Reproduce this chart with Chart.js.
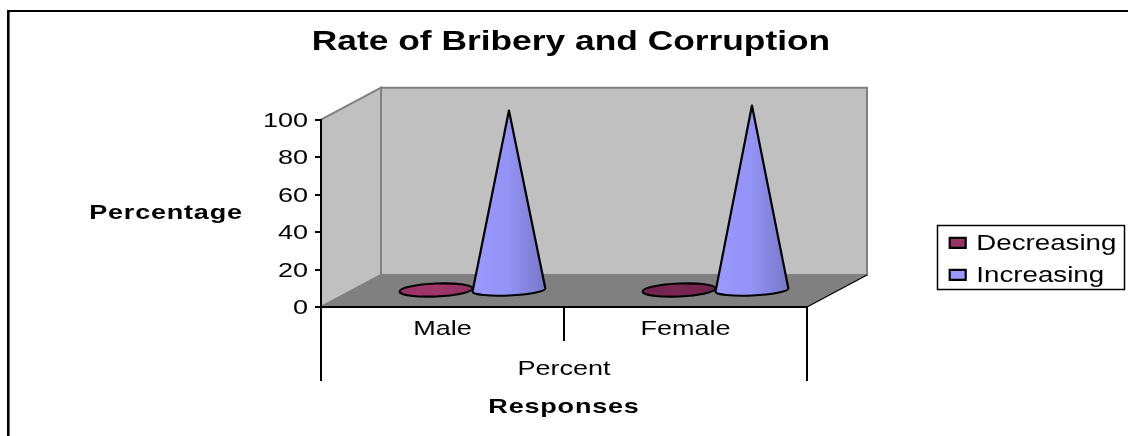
<!DOCTYPE html>
<html>
<head>
<meta charset="utf-8">
<title>Rate of Bribery and Corruption</title>
<style>html,body{margin:0;padding:0;background:#fff}canvas{display:block}</style>
<script src="https://cdn.jsdelivr.net/npm/chart.js@4/dist/chart.umd.min.js"></script>
</head>
<body>
<canvas id="c" width="1128" height="436"></canvas>
<script>
const categories = ['Male', 'Female'];
const decreasing = [3.7, 1.0];
const increasing = [96.3, 99.0];
const seriesNames = ['Decreasing', 'Increasing'];
const yTicks = [0, 20, 40, 60, 80, 100];
const chartTitle = 'Rate of Bribery and Corruption';
const yTitle = 'Percentage';
const xTitle = 'Responses';
const groupLabel = 'Percent';
const decreasingShades = ['#993366', '#73244F'];

const FONT = '"Liberation Sans", Arial, sans-serif';
const DEPTH_X = 60, DEPTH_Y = -32, STRETCH = 1.3;

const canvas = document.getElementById('c');
const ctx2d = canvas.getContext('2d');
// The reference's text is horizontally stretched; apply this to every text draw.
const rawFillText = ctx2d.fillText.bind(ctx2d);
ctx2d.fillText = function (text, x, y) {
  ctx2d.save();
  ctx2d.translate(x, y + 1.5);
  ctx2d.scale(STRETCH, 1);
  ctx2d.letterSpacing = /^bold 20\.8px/.test(ctx2d.font) ? '0.6px' : '0px';
  rawFillText(text, 0, 0);
  ctx2d.restore();
};

function shade(hex, f) {
  const n = parseInt(hex.slice(1), 16);
  const c = s => Math.max(0, Math.min(255, Math.round(((n >> s) & 255) * f)));
  return `rgb(${c(16)},${c(8)},${c(0)})`;
}

class ConeElement extends Chart.BarElement {
  draw(ctx) {
    const o = this.options;
    const cx = this.x + DEPTH_X / 2;
    const cy = this.base + DEPTH_Y / 2;
    const apex = this.y + DEPTH_Y / 2;
    const rx = this.width / 2;
    const tall = cy - apex > 20;
    const ry = tall ? 5.5 : 6.5;
    const rot = -2.5 * Math.PI / 180;
    const g = ctx.createLinearGradient(cx - rx, 0, cx + rx, 0);
    g.addColorStop(0, o.backgroundColor);
    g.addColorStop(0.5, shade(o.backgroundColor, tall ? 0.96 : 1.05));
    g.addColorStop(1, shade(o.backgroundColor, tall ? 0.78 : 0.95));
    ctx.save();
    ctx.beginPath();
    if (tall) {
      ctx.moveTo(cx, apex);
      ctx.ellipse(cx, cy, rx, ry, rot, 0, Math.PI);
      ctx.closePath();
    } else {
      ctx.ellipse(cx, cy, rx, ry, rot, 0, Math.PI * 2);
    }
    ctx.fillStyle = g;
    ctx.fill();
    ctx.lineWidth = o.borderWidth;
    ctx.strokeStyle = o.borderColor;
    ctx.lineJoin = 'round';
    ctx.stroke();
    ctx.restore();
  }
}
ConeElement.id = 'cone';
ConeElement.defaults = Chart.BarElement.defaults;
ConeElement.defaultRoutes = Chart.BarElement.defaultRoutes;

class ConeController extends Chart.BarController {}
ConeController.id = 'cone';
ConeController.defaults = Object.assign({}, Chart.BarController.defaults, { dataElementType: 'cone' });
ConeController.overrides = Chart.BarController.overrides;
Chart.register(ConeElement, ConeController);

const stage = {
  id: 'stage',
  beforeDraw(chart) {
    const { ctx, chartArea: a } = chart;
    ctx.save();
    // frame
    ctx.fillStyle = '#000';
    ctx.fillRect(7, 10, 1121, 2);
    ctx.fillRect(7, 10, 2, 426);
    ctx.fillStyle = '#666';
    ctx.fillRect(9, 12, 1, 424);
    const poly = (pts, fill, stroke) => {
      ctx.beginPath();
      pts.forEach((p, i) => i ? ctx.lineTo(p[0], p[1]) : ctx.moveTo(p[0], p[1]));
      ctx.closePath();
      ctx.fillStyle = fill;
      ctx.fill();
      if (stroke) { ctx.strokeStyle = stroke; ctx.lineWidth = 2; ctx.stroke(); }
    };
    const dx = DEPTH_X, dy = DEPTH_Y;
    const wall = '#C0C0C0', edge = '#808080';
    poly([[a.left, a.top], [a.left + dx, a.top + dy], [a.left + dx, a.bottom + dy], [a.left, a.bottom]], wall, edge);
    poly([[a.left + dx, a.top + dy], [a.right + dx, a.top + dy], [a.right + dx, a.bottom + dy], [a.left + dx, a.bottom + dy]], wall, edge);
    poly([[a.left, a.bottom], [a.left + dx, a.bottom + dy], [a.right + dx, a.bottom + dy], [a.right, a.bottom]], edge, null);
    // front-right floor edge
    ctx.beginPath();
    ctx.moveTo(a.right, a.bottom);
    ctx.lineTo(a.right + dx, a.bottom + dy);
    ctx.strokeStyle = '#000';
    ctx.lineWidth = 1.2;
    ctx.stroke();
    ctx.restore();
  },
  afterLayout(chart) {
    const l = chart.legend;
    l.left = 939; l.right = 1125; l.top = 221.6; l.bottom = 340;
  },
  afterDraw(chart) {
    const { ctx, chartArea: a } = chart;
    ctx.save();
    // outer bracket of the two-level category axis
    ctx.strokeStyle = '#000';
    ctx.lineWidth = 2;
    [a.left, a.right].forEach(x => {
      ctx.beginPath();
      ctx.moveTo(x, a.bottom);
      ctx.lineTo(x, a.bottom + 74);
      ctx.stroke();
    });
    ctx.fillStyle = '#000';
    ctx.textBaseline = 'middle';
    ctx.textAlign = 'center';
    ctx.font = '20.8px ' + FONT;
    ctx.fillText(groupLabel, (a.left + a.right) / 2, a.bottom + 61);
    ctx.font = 'bold 20.8px ' + FONT;
    ctx.fillText(yTitle, 166, 212);
    // legend box
    ctx.lineWidth = 1.5;
    ctx.strokeRect(937.5, 225.5, 187, 64);
    ctx.restore();
  }
};

new Chart(ctx2d, {
  type: 'cone',
  data: {
    labels: categories,
    datasets: [
      { label: seriesNames[0], data: decreasing,
        backgroundColor: c => c.type === 'data' ? decreasingShades[c.dataIndex] : decreasingShades[0] },
      { label: seriesNames[1], data: increasing, backgroundColor: '#9999FF' }
    ]
  },
  options: {
    responsive: false,
    animation: false,
    datasets: { cone: { borderColor: '#000', borderWidth: 2.2, barPercentage: 1, categoryPercentage: 0.6, clip: false } },
    layout: { padding: { left: 14, right: 0, top: 0, bottom: 0 } },
    plugins: {
      tooltip: { enabled: false },
      title: {
        display: true, text: chartTitle, color: '#000',
        font: { family: FONT, size: 27.2, weight: 'bold' },
        padding: { top: 25, bottom: 62 }
      },
      legend: {
        display: true, position: 'right', align: 'start',
        labels: {
          color: '#000', boxWidth: 16, boxHeight: 10, padding: 10.7,
          font: { family: FONT, size: 21.3 }
        }
      }
    },
    scales: {
      x: {
        grid: { drawOnChartArea: false, tickLength: 34, color: '#000', lineWidth: 2 },
        border: { color: '#000', width: 2 },
        ticks: { color: '#000', padding: -26, font: { family: FONT, size: 20.8 }, maxRotation: 0 },
        title: { display: true, text: xTitle, color: '#000',
                 font: { family: FONT, size: 20.8, weight: 'bold' }, padding: { top: 0, bottom: 18 } },
        afterFit(s) { s.height = 129; }
      },
      y: {
        min: 0, max: 100,
        grid: { drawOnChartArea: false, tickLength: 6, color: '#000', lineWidth: 2 },
        border: { color: '#000', width: 2 },
        afterBuildTicks(s) { s.ticks = yTicks.map(v => ({ value: v })); },
        ticks: { color: '#000', padding: 7, font: { family: FONT, size: 20.8 } },
        afterFit(s) { s.width = 307; }
      },
      gap: {
        type: 'linear', axis: 'y', position: 'right',
        grid: { display: false }, border: { display: false }, ticks: { display: false },
        afterFit(s) { s.width = 1128 - 807 - s.chart.legend.width; }
      }
    }
  },
  plugins: [stage]
});
</script>
</body>
</html>
